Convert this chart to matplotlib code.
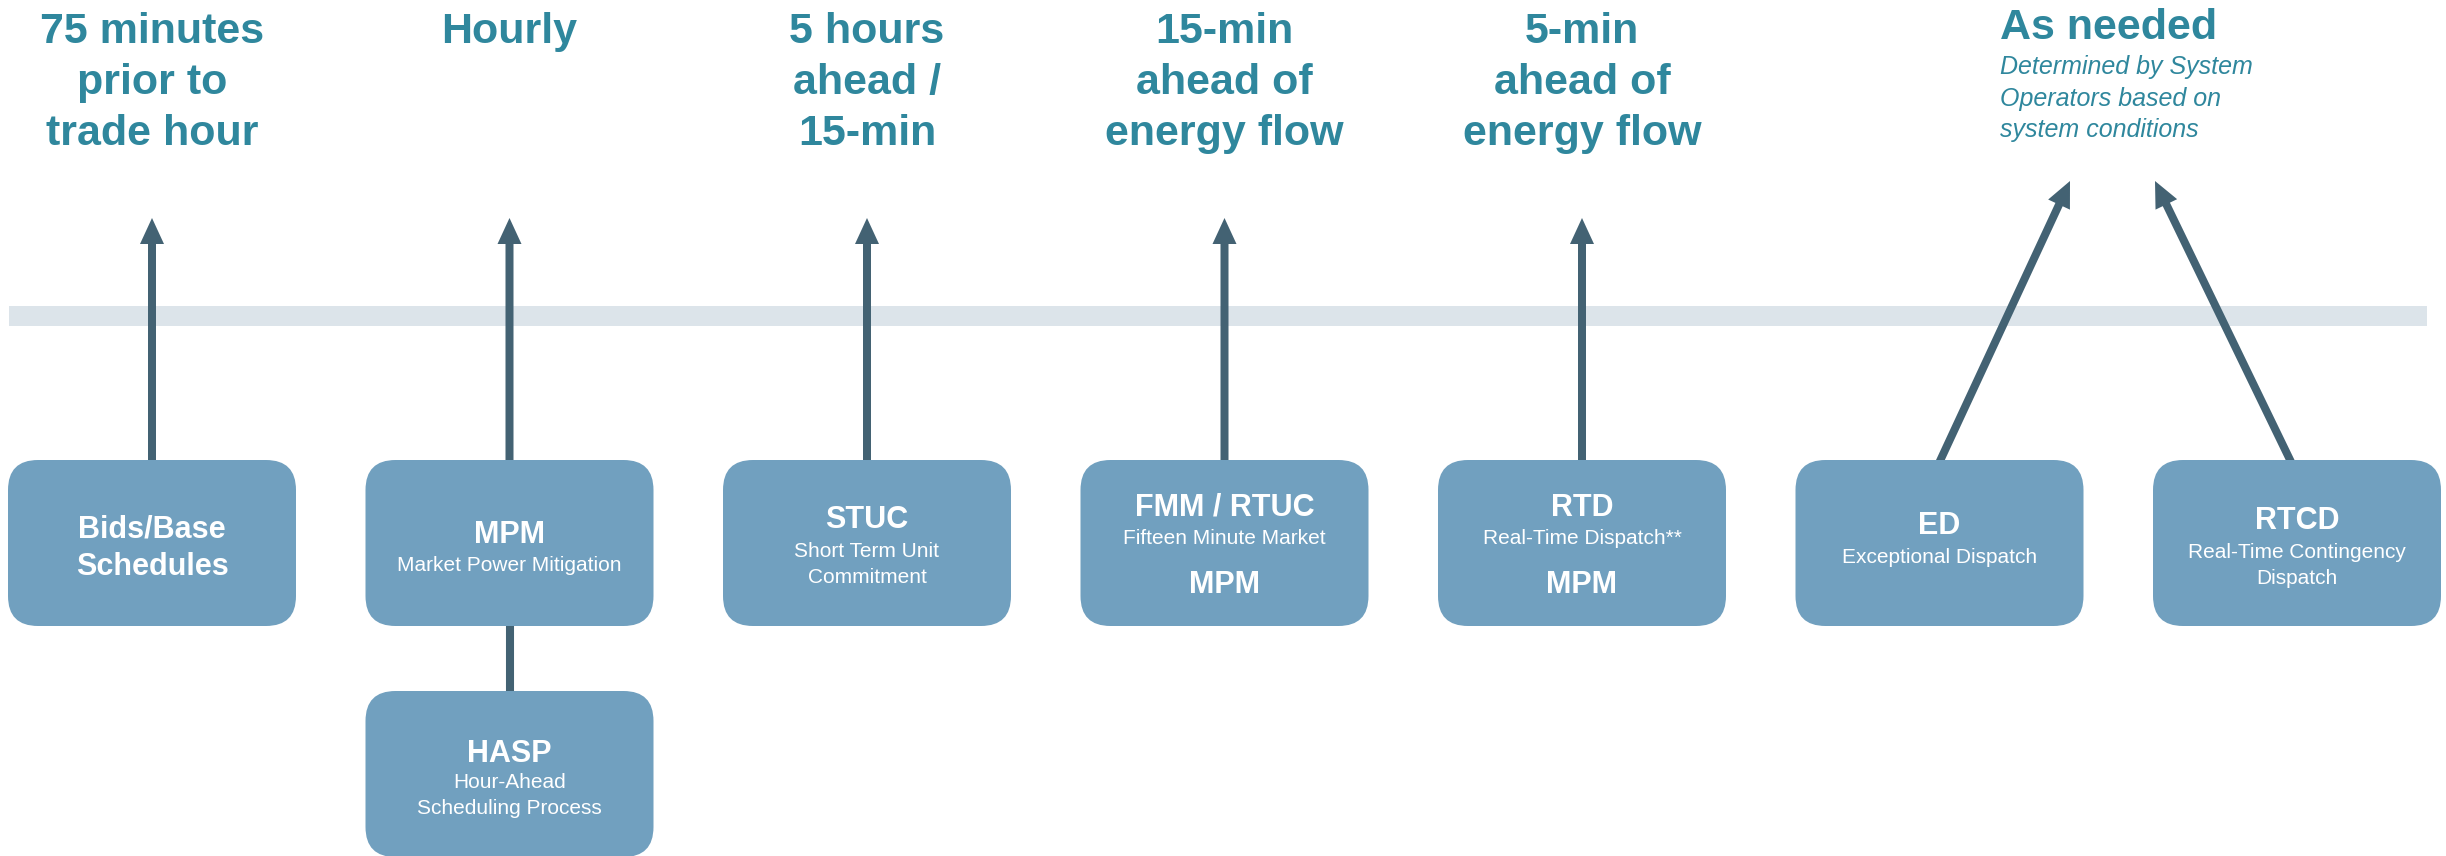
import matplotlib.pyplot as plt
from matplotlib.patches import FancyBboxPatch, Rectangle

plt.rcParams['font.family'] = ['Liberation Sans', 'DejaVu Sans']

# content
box_titles = ["Bids/Base\nSchedules", "MPM", "STUC", "FMM / RTUC", "RTD", "ED", "RTCD"]
box_subs = ["", "Market Power Mitigation", "Short Term Unit\nCommitment",
            "Fifteen Minute Market", "Real-Time Dispatch**", "Exceptional Dispatch",
            "Real-Time Contingency\nDispatch"]
box_extra = ["", "", "", "MPM", "MPM", "", ""]
timings = ["75 minutes\nprior to\ntrade hour", "Hourly", "5 hours\nahead /\n15-min",
           "15-min\nahead of\nenergy flow", "5-min\nahead of\nenergy flow"]
as_needed = "As needed"
as_needed_note = "Determined by System\nOperators based on\nsystem conditions"
hasp_title = "HASP"
hasp_sub = "Hour-Ahead\nScheduling Process"

# layout (pixels)
W, H = 2446, 856
x0, step = 152, 357.5
box_w, box_h, box_top = 288, 166, 460
title_base = [529, 543, 528, 516, 516, 534, 529]
sub_base = [0, 571, 557, 544, 544, 563, 558]

box_col = "#71a0bf"
arrow_col = "#436273"
band_col = "#dce4ea"
head_col = "#2f879d"

fig = plt.figure(figsize=(W / 100, H / 100), dpi=100)
ax = fig.add_axes([0, 0, 1, 1])
ax.set_xlim(0, W)
ax.set_ylim(H, 0)
ax.axis("off")

ax.add_patch(Rectangle((9, 306), 2418, 20, color=band_col, lw=0, zorder=1))


def lines(x, y0, text, dy, **kw):
    for k, ln in enumerate(text.split("\n")):
        ax.text(x, y0 + k * dy, ln, ha="center", va="baseline", **kw)


def box(cx, top, zorder=3):
    ax.add_patch(FancyBboxPatch((cx - box_w / 2, top), box_w, box_h,
                                boxstyle="round,pad=0,rounding_size=30",
                                fc=box_col, ec="none", zorder=zorder))


def arrow(xs, ys, xe, ye):
    ax.arrow(xs, ys, xe - xs, ye - ys, width=8, head_width=24, head_length=26,
             length_includes_head=True, color=arrow_col, lw=0, zorder=2)


for i, t in enumerate(box_titles):
    cx = x0 + i * step
    box(cx, box_top)
    if i == 0:
        lines(cx, 537, t, 38, color="white", fontsize=22, fontweight="bold", zorder=4)
    else:
        lines(cx, title_base[i], t, 36, color="white", fontsize=22, fontweight="bold", zorder=4)
        lines(cx, sub_base[i], box_subs[i], 26, color="white", fontsize=15, zorder=4)
    if box_extra[i]:
        lines(cx, 593, box_extra[i], 36, color="white", fontsize=22, fontweight="bold", zorder=4)

# vertical arrows to the timing labels
for i, t in enumerate(timings):
    cx = x0 + i * step
    arrow(cx, box_top + 2, cx, 218)
    lines(cx, 43, t, 51, color=head_col, fontsize=31, fontweight="bold")

# diagonal arrows for ED and RTCD
ed_x = x0 + 5 * step
rt_x = x0 + 6 * step
arrow(ed_x, box_top + 2, 2070, 181)
arrow(rt_x - 4, box_top + 6, 2155, 181)

ax.text(2000, 39, as_needed, ha="left", va="baseline", color=head_col,
        fontsize=31, fontweight="bold")
for k, ln in enumerate(as_needed_note.split("\n")):
    ax.text(2000, 74 + k * 31.5, ln, ha="left", va="baseline", color=head_col,
            fontsize=18, style="italic")

# HASP below MPM
mx = x0 + step
ax.plot([mx, mx], [box_top + box_h, 691], color=arrow_col, lw=5.8, solid_capstyle="butt", zorder=2)
box(mx, 691)
lines(mx, 762, hasp_title, 36, color="white", fontsize=22, fontweight="bold", zorder=4)
lines(mx, 788, hasp_sub, 26, color="white", fontsize=15, zorder=4)

fig.savefig("out.png", dpi=100)
